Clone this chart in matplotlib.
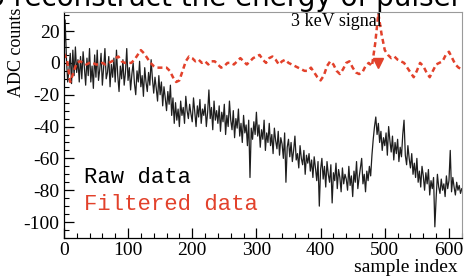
import numpy as np
import matplotlib
matplotlib.use("Agg")
import matplotlib.pyplot as plt
from matplotlib.ticker import MultipleLocator, FuncFormatter

plt.rcParams["font.family"] = ["Liberation Serif", "DejaVu Serif"]

# raw trace, one value every 2 samples (0..620)
raw_step = 2
raw_values = [
    2, 27, 3, -12, -4, 6, -13, 8, -8, 10,
    -6, 2, -12, 4, -10, 7, -3, -14, 3, -8,
    9, -12, -2, -16, 5, -9, 8, -11, -4, 6,
    -14, -3, 9, -10, -6, 4, -15, -1, -9, 3,
    -12, 8, -8, -18, -2, -10, 2, -14, -6, 9,
    -11, -3, -17, -7, 0, -13, -20, -5, -12, 1,
    -15, -8, -21, -3, -12, -18, -6, -14, 2, -10,
    -19, -9, -16, -24, -8, -20, -12, -27, -15, -22,
    -30, -18, -26, -14, -33, -22, -38, -25, -36, -29,
    -40, -24, -33, -28, -38, -21, -30, -35, -26, -32,
    -37, -22, -31, -40, -27, -34, -23, -38, -29, -33,
    -26, -40, -31, -17, -35, -28, -42, -24, -36, -30,
    -38, -27, -43, -31, -37, -26, -45, -33, -40, -24,
    -36, -42, -30, -47, -35, -41, -29, -46, -38, -50,
    -33, -44, -39, -52, -36, -72, -41, -48, -37, -45,
    -31, -46, -39, -53, -42, -48, -36, -55, -44, -50,
    -38, -52, -45, -57, -41, -49, -54, -43, -58, -47,
    -51, -60, -44, -75, -53, -48, -59, -50, -62, -55,
    -46, -61, -57, -66, -52, -60, -64, -55, -70, -58,
    -63, -57, -68, -61, -72, -59, -66, -74, -62, -90,
    -67, -60, -73, -65, -78, -62, -70, -75, -64, -88,
    -69, -74, -63, -79, -67, -72, -81, -66, -76, -70,
    -73, -80, -65, -77, -71, -84, -68, -75, -62, -79,
    -72, -66, -60, -76, -70, -81, -68, -74, -65, -71,
    -58, -48, -40, -34, -45, -38, -50, -43, -55, -47,
    -52, -44, -58, -40, -49, -56, -46, -61, -50, -57,
    -48, -62, -53, -59, -45, -36, -58, -64, -52, -60,
    -66, -57, -70, -63, -72, -60, -75, -68, -78, -65,
    -71, -80, -69, -76, -67, -83, -74, -79, -72, -103,
    -85, -70, -78, -82, -73, -80, -76, -84, -71, -79,
    -74, -55, -81, -72, -78, -83, -75, -80, -77, -82,
    -79,
]

# filtered trace, one value every 5 samples (0..620)
filt_step = 5
filt_values = [
    6, 2, -12, -6, 0, 1, 0, -1, 0, 0,
    -1, -1, 0, -1, 0, 1, 3, 4, 1, 0,
    0, 0, 2, 5, 8, 6, 3, 0, -2, -3,
    -3, -3, -3, -5, -9, -12, -11, -5, 1, 4,
    3, 1, 2, 0, 1, -1, 1, 1, -1, -3,
    -2, 0, 0, -1, 1, 3, 1, -1, 1, 3,
    4, 5, 2, 0, 3, 4, 2, -1, 1, 2,
    0, -1, -2, -3, -4, -5, -5, -3, -6, -9,
    -11, -8, -2, 1, -1, -5, -7, -4, 0, 1,
    -3, -6, -7, -6, -2, 0, -2, 12, 31, 18,
    8, 5, 3, 4, 2, 1, 0, -3, -6, -9,
    -5, 0, -2, -6, -9, -5, -1, 0, 1, 5,
    7, 3, -1, -3, -4,
]

# found pulse position
peak_x = 489
peak_y = 0

red = "#e2412b"

raw_x = np.arange(len(raw_values)) * raw_step
filt_x = np.arange(len(filt_values)) * filt_step

fig = plt.figure(figsize=(4.66, 2.78), dpi=100)
ax = fig.add_axes([0.137, 0.144, 0.854, 0.813])

ax.plot(raw_x, raw_values, color="#1e1e1e", lw=0.9)
ax.plot(filt_x, filt_values, color=red, lw=1.8, linestyle=(0, (2, 1.4)))
ax.plot([peak_x], [peak_y], marker="v", color=red, markersize=7, ls="none")

ax.set_xlim(0, 620)
ax.set_ylim(-110, 32)

ax.xaxis.set_major_locator(MultipleLocator(100))
ax.xaxis.set_minor_locator(MultipleLocator(20))
ax.yaxis.set_major_locator(MultipleLocator(20))
ax.yaxis.set_minor_locator(MultipleLocator(5))
ax.yaxis.set_major_formatter(FuncFormatter(lambda v, p: "%d" % v))
ax.tick_params(which="both", direction="in", top=False, right=False)
ax.tick_params(which="major", length=7, width=0.9, labelsize=14, pad=3)
ax.tick_params(which="minor", length=3.5, width=0.8)

for s in ["top", "right"]:
    ax.spines[s].set_color("#9a9a9a")
    ax.spines[s].set_linewidth(0.8)
for s in ["left", "bottom"]:
    ax.spines[s].set_linewidth(0.9)

ax.text(425, 26, "3 keV signal", fontsize=13, ha="center", va="center")
ax.text(31, -72, "Raw data", family="Liberation Mono", fontsize=16, color="black", va="center")
ax.text(31, -89, "Filtered data", family="Liberation Mono", fontsize=16, color=red, va="center")

fig.text(17 / 466, 1 - 52 / 278, "ADC counts", fontsize=13,
         rotation=90, ha="center", va="center")
fig.text(458 / 466, 1 - 267 / 278, "sample index", fontsize=14,
         ha="right", va="center")

# slide caption above the plot, cut by the top edge as in the slide
fig.text(462 / 466, 1 - 6 / 278, "to reconstruct the energy of pulser",
         family="DejaVu Sans", fontsize=20, ha="right", va="baseline")

fig.savefig("out.png", dpi=100)
